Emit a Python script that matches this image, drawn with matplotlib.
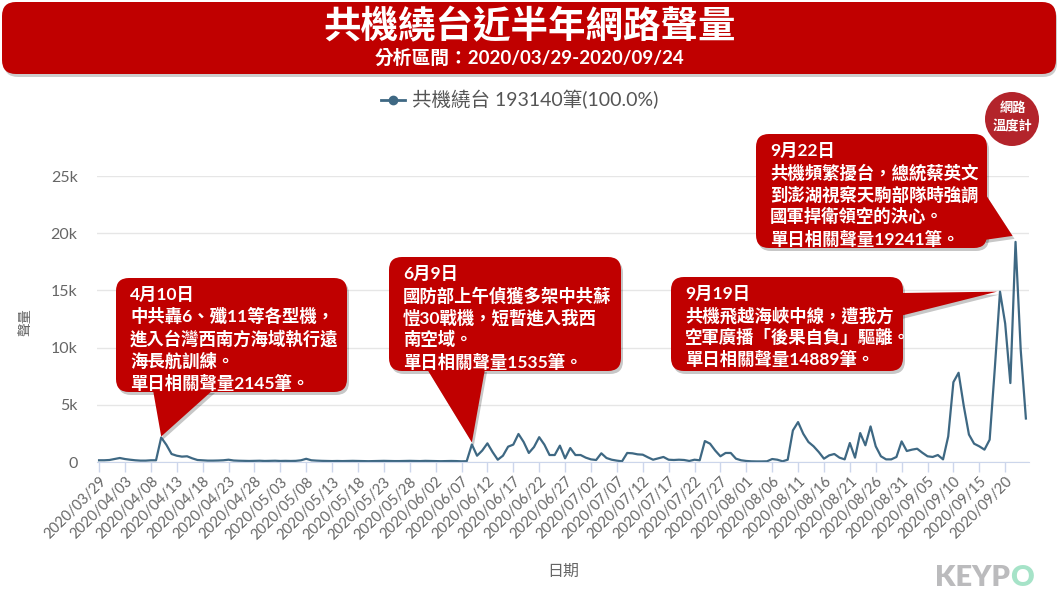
import numpy as np
import pandas as pd
import matplotlib
matplotlib.use('Agg')
import matplotlib.pyplot as plt
from matplotlib.patches import FancyBboxPatch, Polygon, Circle
from matplotlib.lines import Line2D

plt.rcParams['font.family'] = ['Lato', 'Noto Sans CJK TC', 'DejaVu Sans']

# ---- data (daily volume) ----
start_date = '2020-03-29'
volumes = [
    150, 150, 175, 260, 350, 260, 200, 150, 120, 120, 150, 150,
    2145, 1500, 700, 550, 470, 500, 320, 175,
    150, 120, 120, 130, 150, 200, 130, 110, 100, 90,
    100, 110, 90, 100, 110, 90, 100, 90, 100, 150,
    280, 150, 120, 100, 90, 80, 90, 80, 90, 100,
    90, 80, 70, 80, 90, 100, 90, 80, 80, 90,
    100, 90, 80, 100, 90, 80, 70, 80, 90, 80, 60, 70,
    1535, 550, 1000, 1630, 870, 200, 550, 1340,
    1520, 2450, 1750, 790, 1310, 2170, 1520, 610, 610, 1430,
    320, 1220, 610, 610, 380, 230, 175, 760, 350, 200,
    120, 60, 790, 760, 670, 640, 410, 200, 320, 440,
    200, 175, 200, 175, 90, 200, 150, 1830, 1600, 1000,
    500, 790, 790, 290, 150, 90, 60, 50, 50, 60,
    260, 200, 60, 200, 2760, 3490, 2470, 1750, 1370, 870,
    290, 580, 700, 380, 230, 1660, 380, 2530, 1460, 3110,
    1370, 500, 230, 230, 440, 1800, 960, 1080, 1160, 810,
    500, 440, 610, 230, 2240, 6980, 7800, 4900, 2400, 1600,
    1370, 1080, 1950, 8200, 14889, 12100, 6900, 19241, 9800, 3800,
]
dates = pd.date_range(start_date, periods=len(volumes), freq='D')
tick_step = 5
y_ticks = [0, 5000, 10000, 15000, 20000, 25000]
y_tick_labels = ['0', '5k', '10k', '15k', '20k', '25k']

title = '共機繞台近半年網路聲量'
subtitle = '分析區間：2020/03/29-2020/09/24'
legend_label = '共機繞台 193140筆(100.0%)'

event_dates = ['2020-04-10', '2020-06-09', '2020-09-19', '2020-09-22']
event_texts = [
    '4月10日\n中共轟6、殲11等各型機，\n進入台灣西南方海域執行遠\n海長航訓練。\n單日相關聲量2145筆。',
    '6月9日\n國防部上午偵獲多架中共蘇\n愷30戰機，短暫進入我西\n南空域。\n單日相關聲量1535筆。',
    '9月19日\n共機飛越海峽中線，遭我方\n空軍廣播「後果自負」驅離。\n單日相關聲量14889筆。',
    '9月22日\n共機頻繁擾台，總統蔡英文\n到澎湖視察天駒部隊時強調\n國軍捍衛領空的決心。\n單日相關聲量19241筆。',
]
# callout layout in figure pixels: box (x0, y0, x1, y1), pointer base, tip nudge
event_boxes = [(116, 278, 347, 392), (389, 257, 621, 371),
               (671, 277, 903, 371), (756, 134, 987, 248)]
event_bases = [[(153, 390), (213, 390)], [(427, 369), (485, 369)],
               [(900, 293), (900, 316)], [(984, 192), (984, 240)]]
event_nudge = [(0, -1), (0, -2), (-3, 0), (-3, -6)]

W, H = 1060, 596
LINE = '#3e6883'
RED = '#c00000'
GREY = '#666666'

fig = plt.figure(figsize=(W / 100, H / 100), dpi=100)
ax = fig.add_axes([97 / W, 1 - 462 / H, (1029 - 97) / W, (462 - 176) / H])

x = np.arange(len(volumes))
ax.plot(x, volumes, color=LINE, lw=1.6, solid_joinstyle='round')
ax.set_xlim(-0.4, len(volumes) - 0.4)
ax.set_ylim(0, 25000)
ax.set_yticks(y_ticks, y_tick_labels)
ax.grid(axis='y', color='#e6e6e6', lw=1)
ax.set_axisbelow(True)
for s in ['top', 'right', 'left']:
    ax.spines[s].set_visible(False)
ax.spines['bottom'].set_color('#ccd6eb')
ax.tick_params(axis='x', length=7, color='#ccd6eb', width=1,
               labelsize=10.5, labelcolor=GREY, pad=2)
ax.tick_params(axis='y', length=0, labelsize=11.5, labelcolor=GREY, pad=14)
xt = list(range(0, len(volumes), tick_step))
ax.set_xticks(xt, [dates[i].strftime('%Y/%m/%d') for i in xt],
              rotation=45, ha='right', rotation_mode='anchor')

fig.text(25 / W, 1 - 322 / H, '聲量', rotation=90, ha='center', va='center',
         fontsize=10, color=GREY)
fig.text(563 / W, 1 - 572 / H, '日期', ha='center', va='center',
         fontsize=11.5, color=GREY)

fig.legend(handles=[Line2D([0], [0], color=LINE, lw=2, marker='o', ms=6)],
           labels=[legend_label], loc='center',
           bbox_to_anchor=(520 / W, 1 - 100 / H), frameon=False,
           fontsize=14, labelcolor='#555555', handlelength=1.2,
           handletextpad=0.4)

# overlay in pixel coords for banner, callouts, logos
ov = fig.add_axes([0, 0, 1, 1], zorder=5)
ov.set_xlim(0, W)
ov.set_ylim(H, 0)
ov.axis('off')
ov.patch.set_alpha(0)

ov.add_patch(FancyBboxPatch((4, 5), 1053, 72, boxstyle='round,pad=0,rounding_size=14',
                            fc='black', alpha=0.2, ec='none'))
ov.add_patch(FancyBboxPatch((2, 2), 1054, 72, boxstyle='round,pad=0,rounding_size=14',
                            fc=RED, ec='none'))
ov.text(530, 26, title, ha='center', va='center', fontsize=27,
        weight='bold', color='white')
ov.text(530, 58, subtitle, ha='center', va='center', fontsize=13.5,
        weight='bold', color='white')


def to_px(xd, yd):
    dx, dy = ax.transData.transform((xd, yd))
    return dx, H - dy


for d, txt, box, base, nudge in zip(event_dates, event_texts, event_boxes,
                                    event_bases, event_nudge):
    i = int((pd.Timestamp(d) - dates[0]).days)
    tx, ty = to_px(i, volumes[i])
    tip = (tx + nudge[0], ty + nudge[1])
    x0, y0, x1, y1 = box
    for off, fc, al in [((2, 3), 'black', 0.22), ((0, 0), RED, 1)]:
        ov.add_patch(FancyBboxPatch((x0 + off[0], y0 + off[1]), x1 - x0, y1 - y0,
                                    boxstyle='round,pad=0,rounding_size=13',
                                    fc=fc, alpha=al, ec='none'))
        pts = [(p[0] + off[0], p[1] + off[1]) for p in base + [tip]]
        ov.add_patch(Polygon(pts, closed=True, fc=fc, alpha=al, ec='none'))
    ov.text(x0 + 14, y0 + 9, txt, ha='left', va='top', fontsize=12.5,
            weight='bold', color='white', linespacing=1.33)

# logos
ov.add_patch(Circle((1012, 119), 27, fc='#b3242b', ec='none'))
ov.text(1013, 108, '網路', ha='center', va='center', fontsize=9.5,
        weight='bold', color='white')
ov.text(1012, 126, '溫度計', ha='center', va='center', fontsize=9.5,
        weight='bold', color='white')
ov.text(1010, 578, 'KEYP', ha='right', va='center', fontsize=21,
        weight='heavy', color='#bbbbbd')
ov.text(1010, 578, 'O', ha='left', va='center', fontsize=21,
        weight='heavy', color='#a6e3c8')

fig.savefig('out.png', dpi=100)
